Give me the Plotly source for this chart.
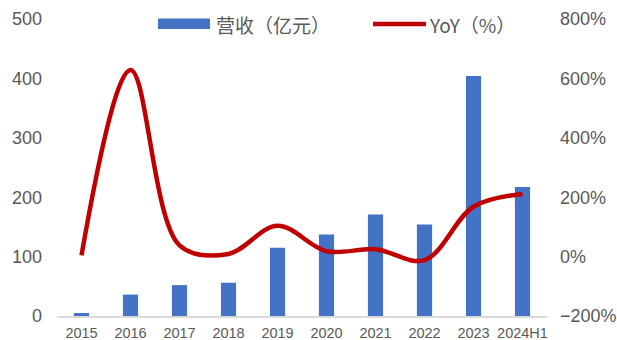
import plotly.graph_objects as go

# Revenue (100 million CNY) and year-over-year growth (%)
years = ["2015", "2016", "2017", "2018", "2019", "2020", "2021", "2022", "2023", "2024H1"]
revenue = [5, 36, 52, 56, 115, 137, 171, 154, 404, 217]
yoy = [4, 628, 38, 9, 104, 18, 25, -12, 168, 211]

left_ticks = [0, 100, 200, 300, 400, 500]
right_ticks = [-200, 0, 200, 400, 600, 800]
right_labels = ["−200%", "0%", "200%", "400%", "600%", "800%"]

BLUE = "#4472C4"
RED = "#C00000"
GREY = "#595959"
NUM_FONT = "Liberation Sans, Arial, sans-serif"
CJK_FONT = "Noto Sans CJK SC, sans-serif"

fig = go.Figure()
fig.add_trace(go.Bar(
    x=years, y=revenue, name="营收（亿元）",
    marker=dict(color=BLUE, line=dict(width=0)),
    width=0.31, yaxis="y",
))
fig.add_trace(go.Scatter(
    x=years, y=yoy, name="YoY（%）", mode="lines",
    line=dict(color=RED, width=4.5, shape="spline", smoothing=1.0),
    yaxis="y2",
))

fig.update_layout(
    width=617, height=340,
    margin=dict(l=57, r=70, t=19, b=24),
    paper_bgcolor="white", plot_bgcolor="white",
    showlegend=False,
    xaxis=dict(
        type="category", showgrid=False, zeroline=False, automargin=False,
        showline=True, linecolor="#D9D9D9", linewidth=1.5,
        ticks="", tickfont=dict(family=NUM_FONT, size=14.5, color=GREY),
        ticklabelstandoff=3,
    ),
    yaxis=dict(
        range=[0, 500], tickvals=left_ticks, showgrid=False, zeroline=False,
        showline=False, ticks="", automargin=False,
        tickfont=dict(family=NUM_FONT, size=18, color=GREY),
        ticklabelstandoff=14,
    ),
    yaxis2=dict(
        range=[-200, 800], tickvals=right_ticks, ticktext=right_labels,
        overlaying="y", side="right", showgrid=False, zeroline=False,
        showline=False, ticks="", automargin=False,
        tickfont=dict(family=NUM_FONT, size=18, color=GREY),
        ticklabelstandoff=12,
    ),
)

# Legend drawn at the top of the chart
fig.add_shape(type="rect", xref="paper", yref="paper",
              x0=(158 - 57) / 490, x1=(210 - 57) / 490,
              y0=(316 - 29) / 297, y1=(316 - 18.5) / 297,
              fillcolor=BLUE, line=dict(width=0), layer="above")
fig.add_annotation(xref="paper", yref="paper",
                   x=(214 - 57) / 490, y=(316 - 24) / 297,
                   xanchor="left", yanchor="middle", showarrow=False,
                   text="营收（亿元）",
                   font=dict(family=CJK_FONT, size=19, color=GREY))
fig.add_shape(type="line", xref="paper", yref="paper",
              x0=(373 - 57) / 490, x1=(426 - 57) / 490,
              y0=(316 - 24) / 297, y1=(316 - 24) / 297,
              line=dict(color=RED, width=4.5), layer="above")
fig.add_annotation(xref="paper", yref="paper",
                   x=(427 - 57) / 490, y=(316 - 24) / 297,
                   xanchor="left", yanchor="middle", showarrow=False,
                   text="YoY（%）",
                   font=dict(family=CJK_FONT, size=19, color=GREY))

fig.write_html("out.html")
